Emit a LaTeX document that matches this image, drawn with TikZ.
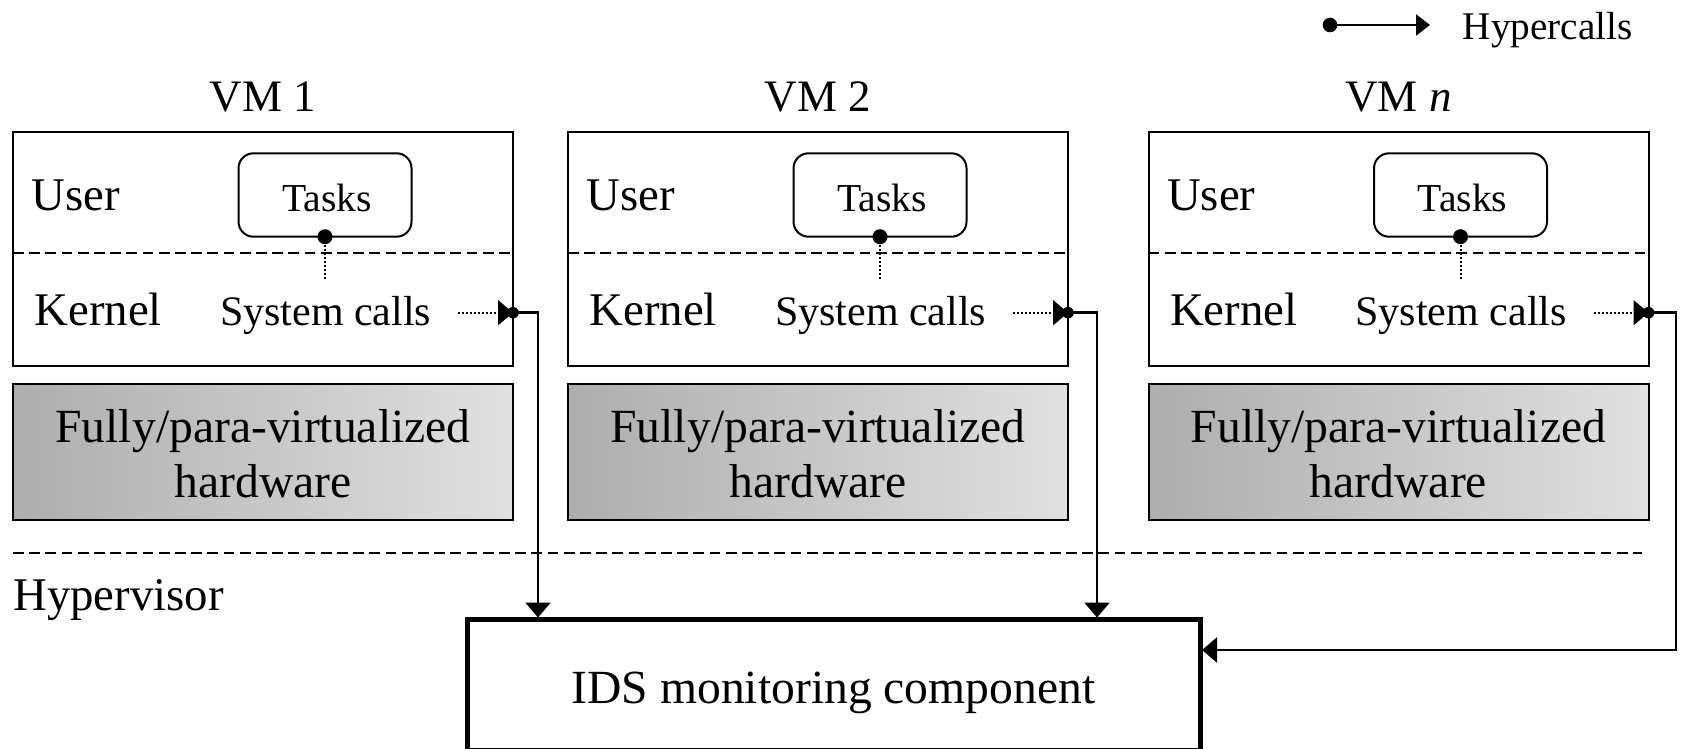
\documentclass[tikz,border=0pt]{standalone}
\usepackage{fontspec}
\setmainfont{Liberation Serif}
\usetikzlibrary{arrows.meta}

\tikzset{
  txt/.style={inner sep=0pt, outer sep=0pt},
  vmtitle/.style={txt, anchor=base, font=\fontsize{22.5pt}{27pt}\selectfont},
  biglbl/.style={txt, anchor=base west, font=\fontsize{23.4pt}{28pt}\selectfont},
  sclbl/.style={txt, anchor=base west, font=\fontsize{21pt}{25pt}\selectfont},
  tasktext/.style={txt, anchor=base, font=\fontsize{19.8pt}{23pt}\selectfont},
  hwtext/.style={txt, anchor=base, font=\fontsize{23.8pt}{28pt}\selectfont},
  idstext/.style={txt, anchor=base, font=\fontsize{23.8pt}{28pt}\selectfont},
  legtext/.style={txt, anchor=base west, font=\fontsize{19.6pt}{23pt}\selectfont},
  vmbox/.style={draw, line width=1pt, inner sep=0pt, outer sep=0pt,
    minimum width=250pt, minimum height=117pt, anchor=north west},
  taskbox/.style={draw, line width=1pt, inner sep=0pt, outer sep=0pt,
    rounded corners=7.5pt, minimum width=86.5pt, minimum height=41.7pt, anchor=north west},
  hwbox/.style={draw, line width=1pt, inner sep=0pt, outer sep=0pt,
    left color=black!32, right color=black!12,
    minimum width=250pt, minimum height=68pt, anchor=north west},
  idsbox/.style={draw, line width=2.25pt, inner sep=0pt, outer sep=0pt,
    minimum width=366.5pt, minimum height=65.25pt, anchor=north west},
  sepline/.style={line width=1.15pt, dash pattern=on 5.4pt off 2.7pt},
  dotline/.style={line width=1pt, dash pattern=on 1pt off 1pt},
  hyper/.style={line width=1.25pt, -{Triangle[length=7.5pt,width=12.5pt]}},
  sctip/.style={-{Triangle[length=7.5pt,width=12.5pt]}},
}

\newcommand\VMBlock[3]{%
  \node[vmbox] (vm#2) at (#1,132) {};
  \node[vmtitle] (title#2) at ({#1+250},111.7) {#3};
  \node[taskbox] (tasks#2) at ({#1+225.5},153.3) {};
  \node[tasktext] (taskslbl#2) at ({#1+314},211.7) {Tasks};
  \coordinate (dl#2) at (#1,253.3);
  \coordinate (dr#2) at ({#1+500},253.3);
  \draw[sepline] (dl#2) -- (dr#2);
  \node[biglbl] (user#2) at ({#1+18.5},210.7) {User};
  \node[biglbl] (kern#2) at ({#1+21.5},325) {Kernel};
  \node[sclbl] (sc#2) at ({#1+207},325) {System calls};
  \coordinate (tend#2) at ({#1+312},280.7);
  \draw[dotline] (tasks#2.south) -- (tend#2);
  \fill (tasks#2.south) circle[radius=3.75pt];
  \coordinate (scs#2) at ({#1+445},312.7);
  \coordinate (hc#2) at ({#1+500},312.7);
  \draw[dotline, sctip] (scs#2) -- (hc#2);
  \fill (hc#2) circle[radius=2.9pt];
  \node[hwbox] (hw#2) at (#1,384) {};
  \node[hwtext] (hwa#2) at ({#1+250},442.5) {Fully/para-virtualized};
  \node[hwtext] (hwb#2) at ({#1+250},497) {hardware};
}

\begin{document}
\begin{tikzpicture}[x=0.5pt, y=-0.5pt]
\useasboundingbox (0,0) rectangle (1681,749);

% legend
\coordinate (lgs) at (1330,25);
\coordinate (lge) at (1430,25);
\draw[line width=1.25pt, -{Triangle[length=7pt,width=10.5pt]}] (lgs) -- (lge);
\fill (lgs) circle[radius=3.65pt];
\node[legtext] (lgt) at (1462.7,39.3) {Hypercalls};

% VMs
\VMBlock{13}{1}{VM 1}
\VMBlock{568}{2}{VM 2}
\VMBlock{1148.5}{3}{VM \textit{n}}

% hypervisor
\coordinate (hvl) at (13,552.7);
\coordinate (hvr) at (1642,552.7);
\draw[sepline] (hvl) -- (hvr);
\node[biglbl] (hv) at (13.3,610) {Hypervisor};

% IDS
\node[idsbox] (ids) at (467.3,619.5) {};
\node[idstext] (idst) at (833.5,703.3) {IDS monitoring component};

% hypercall connectors
\coordinate (in1) at (538,617.5);
\coordinate (in2) at (1097,617.5);
\draw[hyper] (hc1) -| (in1);
\draw[hyper] (hc2) -| (in2);
\coordinate (bn) at (1676,650);
\coordinate (in3) at (1202,650);
\draw[hyper] (hc3) -| (bn) -- (in3);
\end{tikzpicture}
\end{document}
